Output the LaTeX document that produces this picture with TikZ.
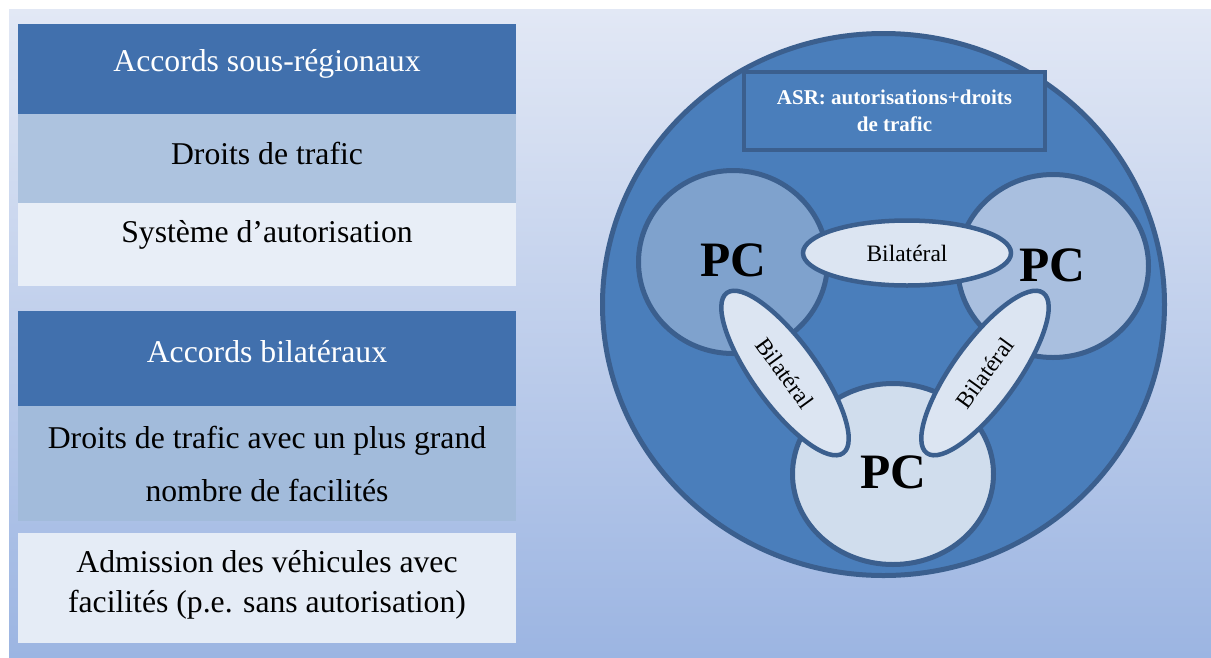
\documentclass[tikz,border=0pt]{standalone}
\usepackage{fontspec}
\setmainfont{Liberation Serif}
\usetikzlibrary{shapes.geometric}
\definecolor{bgtop}{HTML}{E2E8F5}
\definecolor{bgbot}{HTML}{9CB5E2}
\definecolor{hdr}{HTML}{4170AD}
\definecolor{rowa}{HTML}{ADC3DF}
\definecolor{rowb}{HTML}{A2BBDB}
\definecolor{lighta}{HTML}{E8EEF7}
\definecolor{lightb}{HTML}{E5ECF6}
\definecolor{bigfill}{HTML}{4A7EBB}
\definecolor{strk}{HTML}{3B5F8E}
\definecolor{pcl}{HTML}{7FA2CD}
\definecolor{pcr}{HTML}{A9BFDF}
\definecolor{pcb}{HTML}{D0DDED}
\definecolor{ellf}{HTML}{DCE5F2}
\begin{document}
\begin{tikzpicture}[x=1pt,y=-1pt,
  boxrect/.style={draw=none, inner sep=0pt, minimum width=498pt, anchor=north west},
  boxtxt/.style={font=\fontsize{31.7}{38}\selectfont, align=center, inner sep=0pt},
  hdrtxt/.style={boxtxt, text=white},
  pcnode/.style={ellipse, draw=strk, line width=5pt, inner sep=0pt},
  pctxt/.style={font=\bfseries\fontsize{49.5}{49.5}\selectfont, inner sep=0pt},
  bilat/.style={ellipse, draw=strk, line width=4.5pt, fill=ellf, inner sep=0pt,
    minimum width=198pt, minimum height=64pt, font=\fontsize{23.5}{26}\selectfont}
]
\useasboundingbox (0,0) rectangle (1211,657);
\fill[white] (0,0) rectangle (1211,657);
\shade[top color=bgtop, bottom color=bgbot] (9,9) rectangle (1211,657);

% left column: sub-regional agreements
\node[boxrect, fill=hdr, minimum height=90pt] (h1) at (18,24) {};
\node[boxrect, fill=rowa, minimum height=89pt] (r1) at (18,114) {};
\node[boxrect, fill=lighta, minimum height=83pt] (s1) at (18,203) {};
\node[hdrtxt] (h1t) at (267,64) {Accords sous-régionaux};
\node[boxtxt] (r1t) at (267,153) {Droits de trafic};
\node[boxtxt] (s1t) at (267,235) {Système d’autorisation};

% left column: bilateral agreements
\node[boxrect, fill=hdr, minimum height=95pt] (h2) at (18,311) {};
\node[boxrect, fill=rowb, minimum height=115pt] (r2) at (18,406) {};
\node[boxrect, fill=lightb, minimum height=110pt] (s2) at (18,533) {};
\node[hdrtxt] (h2t) at (267,352) {Accords bilatéraux};
\node[boxtxt, font=\fontsize{31.7}{53}\selectfont] (r2t) at (267,464) {Droits de trafic avec un plus grand\\nombre de facilités};
\node[boxtxt, font=\fontsize{31.7}{40}\selectfont] (s2t) at (267,585) {Admission des véhicules avec\\facilités (p.e. sans autorisation)};

% right: big circle
\node[ellipse, draw=strk, line width=5pt, fill=bigfill, inner sep=0pt,
  minimum width=562pt, minimum height=542pt] (big) at (883.5,304.5) {};
\node[draw=strk, line width=4pt, fill=bigfill, minimum width=301pt, minimum height=78pt,
  inner sep=0pt, text=white, align=center, font=\bfseries\fontsize{21}{27}\selectfont]
  (asr) at (894.5,110.5) {ASR: autorisations+droits\\de trafic};

% PC circles
\node[pcnode, fill=pcl, minimum width=189pt, minimum height=183pt] (pc1) at (733,262) {};
\node[pcnode, fill=pcr, minimum width=191pt, minimum height=183pt] (pc2) at (1053,266) {};
\node[pcnode, fill=pcb, minimum width=201pt, minimum height=181pt] (pc3) at (893,474) {};
\node[pctxt] (pc1t) at (733,260) {PC};
\node[pctxt] (pc2t) at (1052,265) {PC};
\node[pctxt] (pc3t) at (893,472) {PC};

% bilateral ellipses
\node[bilat, minimum width=208pt, minimum height=65pt] (b1) at (907,253) {Bilatéral};
\node[bilat, rotate=-54] (b2) at (785,373) {Bilatéral};
\node[bilat, rotate=54] (b3) at (985,373) {Bilatéral};
\end{tikzpicture}
\end{document}
